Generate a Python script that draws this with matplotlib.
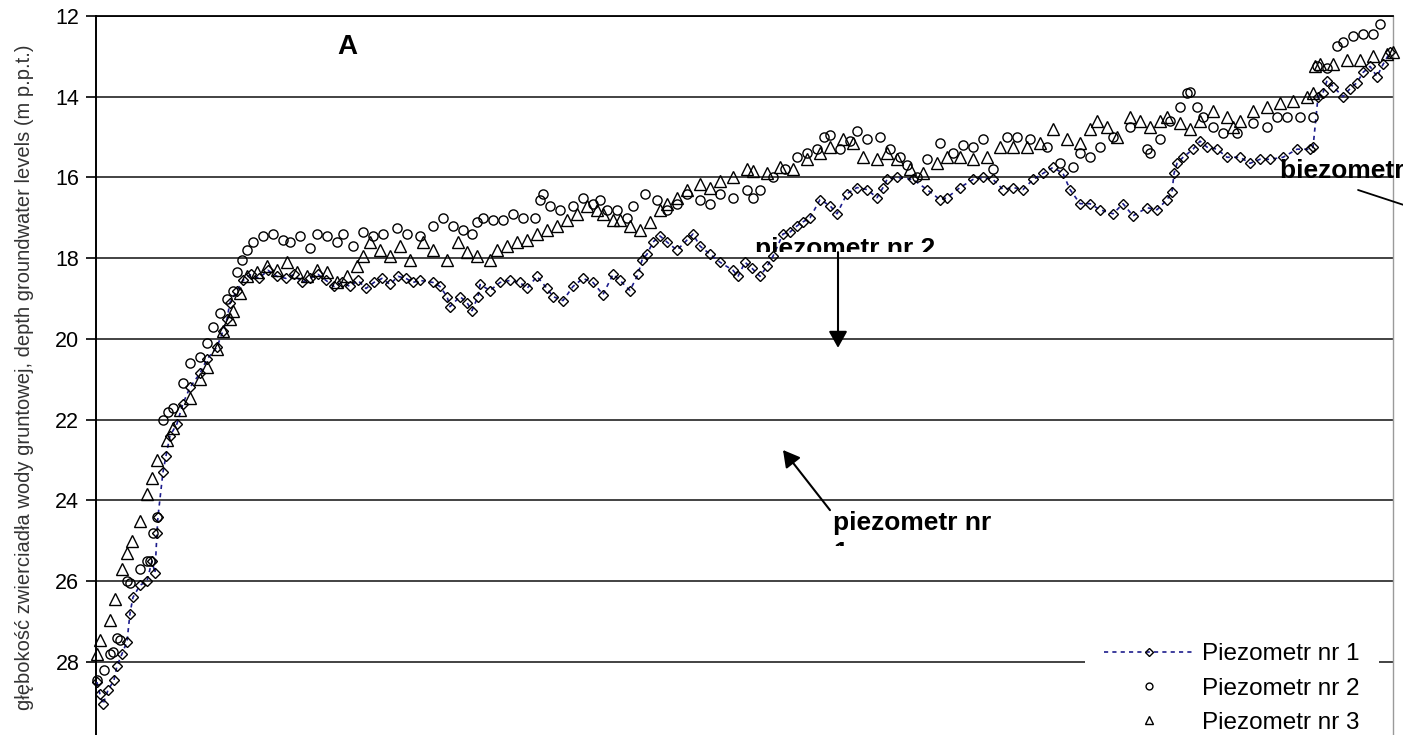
import matplotlib
matplotlib.use("Agg")
import matplotlib.pyplot as plt
from matplotlib.transforms import Bbox, TransformedBbox

plt.rcParams["font.family"] = ["Liberation Sans", "DejaVu Sans"]

# measurement day (from start of record) and depth to groundwater [m p.p.t.]
p1_day = [1, 4, 7, 12, 18, 21, 26, 31, 34, 37, 44, 51, 56, 59, 61, 62, 67, 70, 74, 81,
          87, 94, 104, 111, 121, 127, 131, 134, 141, 147, 155, 163, 172, 181, 190, 198,
          206, 214, 222, 230, 238, 246, 254, 262, 270, 278, 286, 294, 302, 310, 317, 324,
          337, 344, 351, 354, 364, 371, 376, 382, 384, 394, 404, 414, 424, 431, 441, 451,
          457, 467, 477, 487, 497, 507, 517, 524, 534, 542, 546, 551, 557, 564, 571, 581,
          591, 597, 604, 614, 624, 637, 642, 649, 656, 664, 671, 677, 687, 694, 701, 707,
          714, 724, 734, 741, 751, 761, 771, 781, 787, 791, 801, 817, 831, 844, 851, 864,
          877, 887, 897, 907, 917, 927, 937, 947, 957, 967, 974, 984, 994, 1004, 1017,
          1027, 1037, 1051, 1061, 1071, 1076, 1078, 1081, 1087, 1097, 1104, 1111, 1121,
          1131, 1144, 1154, 1164, 1174, 1187, 1201, 1214, 1217, 1222, 1227, 1231, 1237,
          1247, 1254, 1261, 1267, 1274, 1281, 1287, 1294]
p1_depth = [28.5, 28.8, 29.05, 28.7, 28.45, 28.1, 27.8, 27.5, 26.8, 26.4, 26.1, 26.0, 25.5,
            25.8, 24.8, 24.4, 23.3, 22.9, 22.4, 22.1, 21.6, 21.2, 20.85, 20.5, 20.2, 19.8,
            19.5, 19.1, 18.8, 18.55, 18.4, 18.5, 18.3, 18.45, 18.5, 18.4, 18.6, 18.5, 18.4,
            18.55, 18.7, 18.6, 18.7, 18.55, 18.75, 18.6, 18.5, 18.65, 18.45, 18.5, 18.6,
            18.55, 18.6, 18.7, 18.95, 19.2, 18.95, 19.1, 19.3, 18.95, 18.65, 18.8, 18.6,
            18.55, 18.6, 18.75, 18.45, 18.75, 18.95, 19.05, 18.7, 18.5, 18.6, 18.9, 18.4,
            18.55, 18.8, 18.4, 18.05, 17.9, 17.6, 17.45, 17.6, 17.8, 17.55, 17.4, 17.7,
            17.9, 18.1, 18.3, 18.45, 18.1, 18.25, 18.45, 18.2, 17.95, 17.4, 17.35, 17.2,
            17.1, 17.0, 16.55, 16.7, 16.9, 16.4, 16.25, 16.3, 16.5, 16.25, 16.05, 16.0,
            16.05, 16.3, 16.55, 16.5, 16.25, 16.05, 16.0, 16.05, 16.3, 16.25, 16.3, 16.05,
            15.9, 15.75, 15.9, 16.3, 16.65, 16.65, 16.8, 16.9, 16.65, 16.95, 16.75, 16.8,
            16.55, 16.35, 15.9, 15.65, 15.5, 15.3, 15.1, 15.25, 15.3, 15.5, 15.5, 15.65,
            15.55, 15.55, 15.5, 15.3, 15.3, 15.25, 14.0, 13.9, 13.6, 13.75, 14.0, 13.8,
            13.65, 13.4, 13.25, 13.5, 13.2, 12.9]

p2_day = [1, 8, 14, 17, 21, 24, 31, 34, 44, 51, 54, 57, 61, 67, 72, 77, 87, 94, 104, 111,
          117, 124, 131, 137, 141, 146, 151, 157, 167, 177, 187, 194, 204, 214, 221, 231,
          241, 247, 257, 267, 277, 287, 301, 311, 324, 337, 347, 357, 367, 376, 381, 387,
          397, 407, 417, 427, 439, 444, 447, 454, 464, 477, 487, 497, 504, 511, 521, 531,
          537, 549, 561, 571, 581, 591, 604, 614, 624, 637, 651, 657, 664, 677, 689, 701,
          711, 721, 728, 734, 744, 754, 761, 771, 784, 794, 804, 811, 821, 831, 844, 857,
          867, 877, 887, 897, 911, 921, 934, 951, 964, 977, 984, 994, 1004, 1017, 1034,
          1051, 1054, 1064, 1074, 1084, 1091, 1094, 1101, 1107, 1117, 1127, 1141, 1157,
          1171, 1181, 1191, 1204, 1217, 1221, 1231, 1241, 1247, 1257, 1267, 1277, 1284]
p2_depth = [28.45, 28.2, 27.8, 27.75, 27.4, 27.45, 26.0, 26.05, 25.7, 25.5, 25.5, 24.8,
            24.4, 22.0, 21.8, 21.7, 21.1, 20.6, 20.45, 20.1, 19.7, 19.35, 19.0, 18.8, 18.35,
            18.05, 17.8, 17.6, 17.45, 17.4, 17.55, 17.6, 17.45, 17.75, 17.4, 17.45, 17.6,
            17.4, 17.7, 17.35, 17.45, 17.4, 17.25, 17.4, 17.45, 17.2, 17.0, 17.2, 17.3,
            17.4, 17.1, 17.0, 17.05, 17.05, 16.9, 17.0, 17.0, 16.55, 16.4, 16.7, 16.8, 16.7,
            16.5, 16.65, 16.55, 16.8, 16.8, 17.0, 16.7, 16.4, 16.55, 16.8, 16.65, 16.4,
            16.55, 16.65, 16.4, 16.5, 16.3, 16.5, 16.3, 16.0, 15.8, 15.5, 15.4, 15.3, 15.0,
            14.95, 15.3, 15.1, 14.85, 15.05, 15.0, 15.3, 15.5, 15.7, 16.0, 15.55, 15.15,
            15.4, 15.2, 15.25, 15.05, 15.8, 15.0, 15.0, 15.05, 15.25, 15.65, 15.75, 15.4,
            15.5, 15.25, 15.0, 14.75, 15.3, 15.4, 15.05, 14.6, 14.25, 13.9, 13.88, 14.25,
            14.5, 14.75, 14.9, 14.9, 14.65, 14.75, 14.5, 14.5, 14.5, 14.5, 13.25, 13.3,
            12.75, 12.65, 12.5, 12.45, 12.45, 12.2]

p3_day = [1, 4, 14, 19, 26, 31, 36, 44, 51, 56, 61, 71, 77, 84, 94, 104, 111, 121, 127,
          134, 137, 144, 151, 161, 171, 181, 191, 201, 211, 221, 231, 241, 251, 261, 267,
          274, 284, 294, 304, 314, 327, 337, 351, 362, 371, 381, 394, 401, 411, 421, 431,
          441, 451, 461, 471, 481, 491, 501, 507, 517, 524, 534, 544, 554, 564, 571, 581,
          591, 604, 614, 624, 637, 651, 657, 671, 684, 697, 711, 724, 734, 747, 757, 767,
          781, 791, 801, 814, 827, 841, 851, 864, 877, 891, 904, 917, 931, 944, 957, 971,
          984, 994, 1001, 1011, 1021, 1034, 1044, 1054, 1064, 1071, 1084, 1094, 1104,
          1117, 1131, 1137, 1144, 1157, 1171, 1184, 1197, 1211, 1217, 1219, 1224, 1237,
          1251, 1264, 1277, 1291, 1297]
p3_depth = [27.8, 27.45, 26.95, 26.45, 25.7, 25.3, 25.0, 24.5, 23.85, 23.45, 23.0, 22.5,
            22.2, 21.75, 21.45, 21.0, 20.7, 20.25, 19.8, 19.5, 19.3, 18.85, 18.45, 18.35,
            18.2, 18.3, 18.1, 18.35, 18.45, 18.3, 18.35, 18.6, 18.45, 18.2, 17.95, 17.6,
            17.8, 17.95, 17.7, 18.05, 17.6, 17.8, 18.05, 17.6, 17.85, 17.95, 18.05, 17.8,
            17.7, 17.6, 17.55, 17.4, 17.3, 17.2, 17.05, 16.9, 16.7, 16.8, 16.9, 17.05,
            17.05, 17.2, 17.3, 17.1, 16.8, 16.65, 16.5, 16.3, 16.15, 16.25, 16.1, 16.0,
            15.8, 15.85, 15.9, 15.75, 15.8, 15.55, 15.4, 15.25, 15.05, 15.15, 15.5, 15.55,
            15.4, 15.55, 15.8, 15.9, 15.65, 15.5, 15.5, 15.55, 15.5, 15.25, 15.25, 15.25,
            15.15, 14.8, 15.05, 15.15, 14.8, 14.6, 14.75, 15.0, 14.5, 14.6, 14.75, 14.6,
            14.5, 14.65, 14.8, 14.6, 14.35, 14.5, 14.75, 14.6, 14.35, 14.25, 14.15, 14.1,
            14.0, 13.9, 13.25, 13.2, 13.2, 13.1, 13.1, 13.0, 12.95, 12.9]

y_ticks = [12, 14, 16, 18, 20, 22, 24, 26, 28, 30]
labels = ["Piezometr nr 1", "Piezometr nr 2", "Piezometr nr 3"]

fig = plt.figure(figsize=(14.03, 7.35), dpi=100)
ax = fig.add_axes([0.0684, -0.0105, 0.9245, 0.9888])

ax.plot(p1_day, p1_depth, linestyle=(0, (2.5, 2.5)), color="#1c1c8c", lw=1.2,
        marker="D", ms=5.3, mfc="none", mec="black", mew=1.0, label=labels[0],
        clip_on=False, zorder=3)
ax.plot(p2_day, p2_depth, linestyle="none", marker="o", ms=6.6, mfc="none",
        mec="black", mew=1.0, label=labels[1], clip_on=False, zorder=3)
ax.plot(p3_day, p3_depth, linestyle="none", marker="^", ms=8.6, mfc="none",
        mec="black", mew=1.0, label=labels[2], clip_on=False, zorder=3)

ax.set_xlim(0, 1297)
ax.set_ylim(30, 12)
ax.set_yticks(y_ticks)
ax.set_xticks([])
ax.tick_params(axis="y", direction="out", length=7, width=1.2, labelsize=15.5,
               pad=5, colors="black")
ax.yaxis.grid(True, color="#222222", lw=1.2, zorder=1)
ax.set_axisbelow(True)
ax.spines["left"].set_linewidth(1.4)
ax.spines["top"].set_linewidth(1.3)
ax.spines["right"].set_color("#9a9a9a")
ax.spines["right"].set_linewidth(1.0)
ax.spines["bottom"].set_visible(False)

fig.text(0.0175, 0.487,
         "głębokość zwierciadła wody gruntowej, depth groundwater levels (m p.p.t.)",
         rotation=90, ha="center", va="center", fontsize=14.5, color="#333333")

bold = dict(fontweight="bold", fontsize=19, color="black", zorder=5)
ax.text(251, 12.77, "A", ha="center", va="center", fontweight="bold", fontsize=20)


def clip_below(txt, depth):
    # hide the part of a label lying deeper than `depth`
    box = TransformedBbox(Bbox([[-100, 11.0], [1400, depth]]), ax.transData)
    txt.set_clip_box(box)
    txt.set_clip_on(True)


# label for piezometer 2, cut off along its lower edge
t2 = ax.text(659, 17.94, "piezometr nr 2", ha="left", va="baseline", **bold)
clip_below(t2, 17.85)
ax.annotate("", xy=(742, 20.22), xytext=(742, 17.85),
            arrowprops=dict(arrowstyle="-|>,head_length=0.5,head_width=0.28",
                            color="black", lw=1.5, mutation_scale=20,
                            shrinkA=0, shrinkB=0))

# label for piezometer 1, second line mostly hidden
ax.text(737, 24.73, "piezometr nr", ha="left", va="baseline", **bold)
t1 = ax.text(737, 25.47, "1", ha="left", va="baseline", **bold)
clip_below(t1, 25.13)
ax.annotate("", xy=(687, 22.75), xytext=(734, 24.24),
            arrowprops=dict(arrowstyle="-|>,head_length=0.5,head_width=0.28",
                            color="black", lw=1.5, mutation_scale=20,
                            shrinkA=0, shrinkB=0))

# label for piezometer 3 running off the right edge
ax.text(1184, 16.01, "biezometr nr 3", ha="left", va="baseline", clip_on=False, **bold)
ax.annotate("", xy=(1310, 16.7), xytext=(1262, 16.31), annotation_clip=False,
            arrowprops=dict(arrowstyle="-", color="black", lw=1.3,
                            shrinkA=0, shrinkB=0))

leg = ax.legend(loc="upper left", bbox_to_anchor=(1085 / 1403, 1 - 624 / 735),
                bbox_transform=fig.transFigure, fontsize=17.5, frameon=True,
                facecolor="white", edgecolor="none", framealpha=1, fancybox=False,
                handlelength=3.7, handletextpad=0.33, labelspacing=0.5,
                borderpad=0.8, borderaxespad=0, markerscale=0.75)
leg.set_zorder(6)

fig.savefig("out.png", dpi=100)
